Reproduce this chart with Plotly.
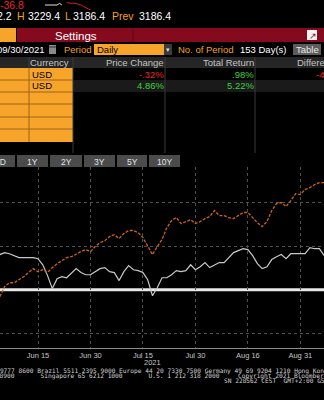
import plotly.graph_objects as go
import pandas as pd

W, H = 324, 400

# ---------------- data ----------------
dates = [d.strftime("%Y-%m-%d") for d in pd.bdate_range("2021-06-03", periods=69)]

orange_vals = [-0.32, 0.14, 0.32, 0.32, 0.46, 0.60, 0.79, 0.97, 0.83, 0.92,
               0.79, 1.02, 1.20, 1.34, 1.48, 1.52, 1.66, 1.76, 1.85, 1.76,
               1.99, 2.17, 2.26, 2.45, 2.54, 2.36, 2.59, 2.73, 2.73, 2.63,
               2.40, 2.03, 1.62, 1.99, 2.31, 2.86, 3.19, 3.33, 3.05, 3.14,
               3.23, 3.05, 3.14, 3.28, 3.37, 3.65, 3.42, 3.42, 3.33, 3.28,
               3.42, 3.56, 3.56, 3.33, 3.09, 2.91, 3.14, 3.65, 3.97, 4.02,
               3.83, 4.11, 4.43, 4.39, 4.62, 4.71, 4.85, 4.94, 4.94]

white_vals = [1.62, 1.71, 1.66, 1.57, 1.48, 1.48, 1.48, 1.48, 1.43, 1.15,
              0.65, 0.05, 0.51, 0.60, 0.55, 0.74, 0.97, 0.79, 0.69, 0.69,
              0.83, 0.97, 1.02, 0.83, 0.79, 0.42, 0.83, 1.11, 0.92, 0.88,
              0.79, 0.46, -0.28, 0.09, 0.55, 0.55, 0.69, 0.88, 0.83, 0.88,
              1.15, 0.92, 1.06, 1.25, 1.02, 1.15, 1.25, 1.25, 1.48, 1.71,
              1.80, 1.89, 1.85, 1.57, 1.20, 0.97, 1.06, 1.39, 1.52, 1.62,
              1.43, 1.66, 1.66, 1.66, 1.66, 1.94, 1.89, 1.89, 1.57]

tick_dates = ["2021-06-15", "2021-06-30", "2021-07-15", "2021-07-30", "2021-08-16", "2021-08-31"]
tick_labels = ["Jun 15", "Jun 30", "Jul 15", "Jul 30", "Aug 16", "Aug 31"]
grid_levels = [-2, 2, 4]
ref_level = 0

spark_prev = [3222, 3222, 3221, 3222, 3221, 3222, 3226, 3222]
spark_today = [3228, 3227, 3226, 3227, 3225, 3224, 3222, 3218, 3214, 3212, 3210]

quote_change = "-36.8"
quote_last = "2.2"
quote_high = "3229.4"
quote_low = "3186.4"
quote_prev = "3186.4"

end_date = "09/30/2021"
period = "Daily"
n_period = "153 Day(s)"

currencies = ["USD", "USD"]
price_change = ["-.32%", "4.86%"]
total_return = [".98%", "5.22%"]
difference = ["-4.24%", ""]
buttons = ["YTD", "1Y", "2Y", "3Y", "5Y", "10Y"]

footer1 = "Australia 61 2 9777 8600 Brazil 5511 2395 9000 Europe 44 20 7330 7500 Germany 49 69 9204 1210 Hong Kong 852 2977 6000"
footer2 = "Japan 81 3 4565 8900       Singapore 65 6212 1000       U.S. 1 212 318 2000     Copyright 2021 Bloomberg Finance L.P."
footer3 = "SN 228562 CEST  GMT+2:00 G571-2151-0 30-Sep-2021"

# ---------------- colours ----------------
ORANGE_CELL = "#f7a52a"
AMBER = "#f4a11c"
MAROON = "#860a1d"
RED = "#e8262a"
GREEN = "#3fcf3f"
BTN = "#4b4b4b"
SANS = "Liberation Sans"
MONO = "DejaVu Sans Mono"

shapes, annotations = [], []


def R(x0, y0, x1, y1, color):
    shapes.append(dict(type="rect", xref="paper", yref="paper",
                       x0=x0 / W, x1=x1 / W, y0=1 - y1 / H, y1=1 - y0 / H,
                       fillcolor=color, line=dict(width=0), layer="above"))


def L(x0, y0, x1, y1, color, w=1):
    shapes.append(dict(type="line", xref="paper", yref="paper",
                       x0=x0 / W, x1=x1 / W, y0=1 - y0 / H, y1=1 - y1 / H,
                       line=dict(color=color, width=w), layer="above"))


def T(x, y, s, size=9.5, color="#ffffff", anchor="left", family=SANS):
    annotations.append(dict(x=x / W, y=1 - y / H, xref="paper", yref="paper",
                            text=s.replace(" ", "\u00a0"), showarrow=False,
                            xanchor=anchor, yanchor="middle", borderpad=0, borderwidth=0,
                            font=dict(size=size, color=color, family=family)))


# ---- quote rows ----
T(0, 5, quote_change, 10.5, RED)
T(12, 16, quote_last, 10.5, "#ffffff", "right")
T(17, 16, "H", 10.5, AMBER)
T(28, 16, quote_high, 10.5)
T(65, 16, "L", 10.5, AMBER)
T(73, 16, quote_low, 10.5)
T(112, 16, "Prev", 10.5, AMBER)
T(139, 16, quote_prev, 10.5)

# ---- settings bar ----
R(-5, 28, 16, 42, ORANGE_CELL)
R(17, 28, 330, 42, MAROON)
L(133, 28, 133, 42, "#6a0716")
T(76, 35.5, "Settings", 11.5, "#ffffff", "center")
R(307, 30, 317, 40, "#f2f2f2")
T(312.5, 35.5, "↗", 9, MAROON, "center")

# ---- period row ----
T(45, 49.5, end_date, 9.5, "#ffffff", "right")
R(49, 45, 56, 54, "#8a8a8a")
L(49, 47, 56, 47, "#333333")
T(64, 49.5, "Period", 9.5, AMBER)
R(94, 44, 164, 55, ORANGE_CELL)
T(97, 49.5, period, 9.5, "#000000")
R(164, 44, 172, 55, "#3a3a3a")
T(168, 49.5, "▾", 7, "#dddddd", "center")
T(178, 49.5, "No. of Period", 9.5, AMBER)
T(240, 49.5, n_period, 9.5)
R(293, 44, 321, 55, "#5c5c5c")
T(307, 49.5, "Table", 9.5, "#e8e8e8", "center")

# ---- table ----
R(0, 57, 330, 68, "#262626")
T(30, 62, "Currency", 9.5, "#c4c4c4")
T(164, 62, "Price Change", 9.5, "#c4c4c4", "right")
T(254, 62, "Total Return", 9.5, "#c4c4c4", "right")
T(297, 62, "Difference", 9.5, "#c4c4c4")
R(73, 80, 330, 92, "#1a1a1a")
R(0, 68, 73, 142, ORANGE_CELL)
for yy in [80, 92, 104, 117, 129]:
    L(0, yy, 73, yy, "#9c6418")
L(29, 68, 29, 142, "#9c6418")
L(29, 57, 29, 68, "#3c3c3c")
for xx in [73, 165, 255]:
    L(xx, 57, xx, 153, "#3a3a3a")
row_y = [74, 86]
for i in range(len(currencies)):
    T(32, row_y[i], currencies[i], 9.5, "#000000")
    pc_col = RED if price_change[i].startswith("-") else GREEN
    T(164, row_y[i], price_change[i], 9.5, pc_col, "right")
    tr_col = RED if total_return[i].startswith("-") else GREEN
    T(254, row_y[i], total_return[i], 9.5, tr_col, "right")
    if difference[i]:
        T(316, row_y[i], difference[i], 9.5, RED)

# ---- period buttons ----
btn_x = [(-20, 15), (17, 48), (50, 82), (84, 115), (117, 147), (149, 180)]
for lab, (a, b) in zip(buttons, btn_x):
    R(a, 155, b, 167, BTN)
    T((a + b) / 2, 161.5, lab, 8.5, "#dfe6f0", "center")

# ---- year label and footer ----
T(152, 362, "2021", 7.5, "#c8c8c8", "center")
T(-56, 370.5, footer1, 6.2, "#d0d0d0", "left", MONO)
T(-59.7, 375.5, footer2, 6.2, "#d0d0d0", "left", MONO)
T(224, 381, footer3, 6.2, "#d0d0d0", "left", MONO)

# ---- reference line ----
shapes.append(dict(type="line", xref="paper", yref="y", x0=0, x1=1, y0=ref_level, y1=ref_level,
                   line=dict(color="#e8e8e8", width=3), layer="between"))

fig = go.Figure()
fig.add_trace(go.Scatter(x=dates, y=white_vals, mode="lines",
                         line=dict(color="#c8c8c8", width=1.2), hoverinfo="skip"))
fig.add_trace(go.Scatter(x=dates, y=orange_vals, mode="lines",
                         line=dict(color="#cc6418", width=1.3, dash="3px,1.5px"), hoverinfo="skip"))
fig.add_trace(go.Scatter(x=list(range(len(spark_prev))), y=spark_prev, mode="lines",
                         line=dict(color="#e0e0e0", width=1), xaxis="x2", yaxis="y2", hoverinfo="skip"))
fig.add_trace(go.Scatter(x=list(range(9, 9 + len(spark_today))), y=spark_today, mode="lines",
                         line=dict(color="#d0202a", width=1), xaxis="x2", yaxis="y2", hoverinfo="skip"))

fig.update_layout(
    width=W, height=H, margin=dict(l=0, r=0, t=0, b=0),
    paper_bgcolor="#000000", plot_bgcolor="#000000", showlegend=False,
    xaxis=dict(type="category", domain=[0, 1], range=[0.03, 67.96],
               tickmode="array", tickvals=tick_dates, ticktext=tick_labels,
               showgrid=True, gridcolor="#505050", griddash="dot", gridwidth=1,
               showline=True, linecolor="#8a8a8a", linewidth=1, ticks="",
               tickfont=dict(size=7.5, color="#c5c5c5", family=SANS), zeroline=False,
               fixedrange=True),
    yaxis=dict(domain=[1 - 348 / H, 1 - 167 / H], range=[-2.69, 5.66],
               tickmode="array", tickvals=grid_levels, showticklabels=False,
               showgrid=True, gridcolor="#505050", griddash="dot", gridwidth=1,
               zeroline=False, showline=False, fixedrange=True),
    xaxis2=dict(domain=[45 / W, 92 / W], range=[0, 19.5], visible=False, anchor="y2", fixedrange=True),
    yaxis2=dict(domain=[1 - 10 / H, 1 - 1 / H], range=[3209.5, 3232], visible=False, anchor="x2", fixedrange=True),
    shapes=shapes, annotations=annotations,
)

fig.write_html("out.html", config={"displayModeBar": False})
